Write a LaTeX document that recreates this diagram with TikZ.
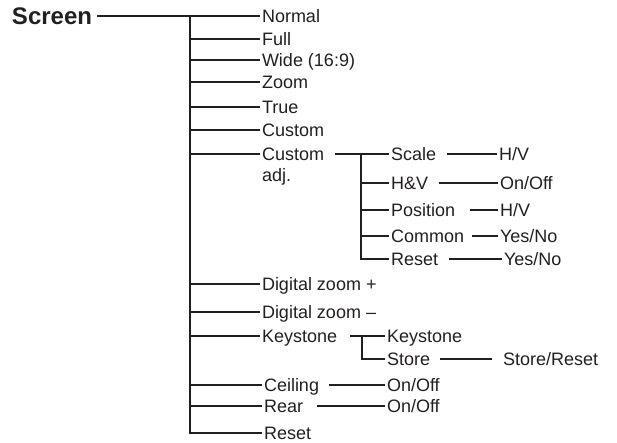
\documentclass[tikz,border=0pt]{standalone}
\usepackage{fontspec}
\setmainfont{Liberation Sans}
\usetikzlibrary{positioning}
\definecolor{ink}{RGB}{35,31,32}

\begin{document}
\begin{tikzpicture}[x=1pt,y=-1pt,line width=1.2pt,color=ink,font=\fontsize{18}{21.5}\selectfont,
  lbl/.style ={anchor=west,inner sep=0pt,outer sep=2pt,text height=12.9pt,text depth=0pt},
  head/.style={lbl,outer sep=5pt,font=\bfseries\fontsize{24}{28}\selectfont,text height=17.2pt},
  link/.style={shorten <=#1}]
\useasboundingbox (0,0) rectangle (617,443);

\node[head] (screen) at (7,16) {Screen};
\coordinate (trunk) at (190,16);

% first level
\node[lbl] (normal) at (260,16)  {Normal};
\node[lbl] (full)   at (260,39)  {Full};
\node[lbl] (wide)   at (260,60)  {Wide (16:9)};
\node[lbl] (zoom)   at (260,82)  {Zoom};
\node[lbl] (true)   at (260,107) {True};
\node[lbl] (custom) at (260,130) {Custom};
\node[lbl] (cadj)   at (260,154) {\begin{tabular}[t]{@{}l@{}}Custom\\adj.\end{tabular}};
\node[lbl] (dzin)   at (260,284) {Digital zoom +};
\node[lbl] (dzout)  at (260,312) {Digital zoom –};
\node[lbl] (keyst)  at (260,336) {Keystone};
\node[lbl] (ceil)   at (262,385) {Ceiling};
\node[lbl] (rear)   at (262,406) {Rear};
\node[lbl] (reset)  at (262,433) {Reset};

% custom adj.
\coordinate (ctr) at (361,154);
\node[lbl] (scale) at (389,154) {Scale};
\node[lbl] (hv)    at (389,183) {H\&V};
\node[lbl] (pos)   at (389,210) {Position};
\node[lbl] (com)   at (389,236) {Common};
\node[lbl] (rst)   at (389,259) {Reset};
\node[lbl] (scalev) at (497,154) {H/V};
\node[lbl] (hvv)    at (498,183) {On/Off};
\node[lbl] (posv)   at (498,210) {H/V};
\node[lbl] (comv)   at (498,236) {Yes/No};
\node[lbl] (rstv)   at (502,259) {Yes/No};

% keystone
\coordinate (ktr) at (362,336);
\node[lbl] (kst)    at (385,336) {Keystone};
\node[lbl] (store)  at (385,359) {Store};
\node[lbl] (storev) at (501,359) {Store/Reset};
\node[lbl] (ceilv)  at (385,385) {On/Off};
\node[lbl] (rearv)  at (385,406) {On/Off};

\draw (screen.east) -- (normal.west);
\draw (trunk) -- (trunk |- reset.west) -- (reset.west);
\draw (trunk |- full.west)   -- (full.west);
\draw (trunk |- wide.west)   -- (wide.west);
\draw (trunk |- zoom.west)   -- (zoom.west);
\draw (trunk |- true.west)   -- (true.west);
\draw (trunk |- custom.west) -- (custom.west);
\draw (trunk |- cadj.west)   -- (cadj.west);
\draw (trunk |- dzin.west)   -- (dzin.west);
\draw (trunk |- dzout.west)  -- (dzout.west);
\draw (trunk |- keyst.west)  -- (keyst.west);
\draw (trunk |- ceil.west)   -- (ceil.west);
\draw (trunk |- rear.west)   -- (rear.west);

\draw[link=9pt] (cadj.east) -- (scale.west);
\draw (ctr) -- (ctr |- rst.west) -- (rst.west);
\draw (ctr |- hv.west)  -- (hv.west);
\draw (ctr |- pos.west) -- (pos.west);
\draw (ctr |- com.west) -- (com.west);
\draw[link=9pt]  (scale.east) -- (scalev.west);
\draw[link=9pt]  (hv.east)    -- (hvv.west);
\draw[link=13pt] (pos.east)   -- (posv.west);
\draw[link=6pt]  (com.east)   -- (comv.west);
\draw[link=9pt]  (rst.east)   -- (rstv.west);

\draw[link=11pt] (keyst.east) -- (kst.west);
\draw (ktr) -- (ktr |- store.west) -- (store.west);
\draw[link=8pt,shorten >=9pt] (store.east) -- (storev.west);
\draw[link=8pt]  (ceil.east) -- (ceilv.west);
\draw[link=12pt] (rear.east) -- (rearv.west);
\end{tikzpicture}
\end{document}
